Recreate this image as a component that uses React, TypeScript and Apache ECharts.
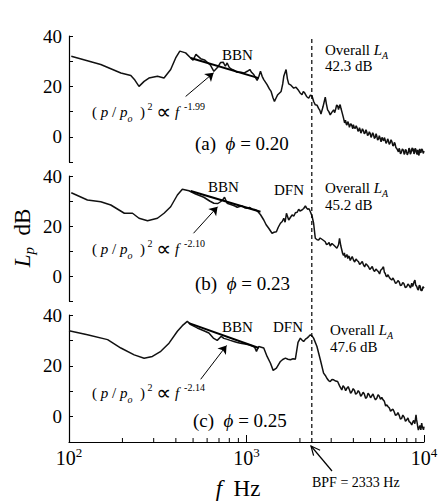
import React, { useEffect, useRef } from 'react';
import * as echarts from 'echarts';

const SERIF = 'Liberation Serif, Times New Roman, DejaVu Serif, serif';

// ---- data (frequency Hz, level dB) ----
const spectrumA: number[][] = [
  [103,32],[151,28.7],[196,25.3],[223,24.3],[235,22.5],[248,20],[265,22],[282,23.3],[315,24],[343,23.3],[374,26.7],[399,31.3],[421,34],[454,33.3],[485,31.3],[500,30.4],[519,32.7],[552,31],[580,30.5],[601,29.6],[625,28.5],[655,26],[690,27.7],[715,29.5],[739,29.6],[760,28],[778,29.3],[800,27.5],[831,26.7],[860,26.2],[887,25.6],[930,25.6],[967,25.3],[1010,26],[1044,26.7],[1070,25.5],[1099,24.7],[1148,22.4],[1175,24],[1199,26],[1225,24],[1251,22.7],[1306,20.7],[1345,19],[1376,18],[1410,15.5],[1437,14],[1470,15.5],[1500,16.7],[1567,18],[1600,21],[1622,24],[1671,26.7],[1700,23],[1729,21],[1780,20.5],[1846,19.3],[1900,19.7],[1951,18.7],[2000,17.5],[2054,16.7],[2090,18],[2118,17.6],[2180,16],[2240,15.3],[2290,16.5],[2338,16.3],[2390,14],[2441,12.7],[2500,12.5],[2548,11.3],[2590,10.5],[2627,9],[2700,12],[2778,15.7],[2820,13],[2864,10.7],[2910,10],[2963,8.7],[3030,9.8],[3097,10.7],[3140,9.6],[3180,11],[3220,12.6],[3261,12.3],[3300,10.8],[3330,12],[3370,12.8],[3404,11.3],[3460,9.5],[3524,7.3],
  [3570,5.5],[3610,6.6],[3650,5],[3680,4.7],[3720,6],[3760,5.3],[3800,3.8],[3830,4.5],[3880,5.2],[3927,4.3],[3970,3.2],[4000,4.8],[4050,3.6],[4097,3.3],[4150,4.4],[4200,3.5],[4250,2.2],[4290,2.5],[4330,3.6],[4370,2.7],[4410,1.5],[4450,2],[4500,3.2],[4560,2.4],[4610,1.2],[4665,1.6],[4710,2.8],[4760,1.9],[4810,0.5],[4870,0.9],[4920,2],[4978,1.3],[5030,-0.2],[5080,0.4],[5140,1.6],[5200,0.8],[5250,-0.6],[5310,-0.3],[5370,1.2],[5420,0.3],[5480,-1.3],[5540,-0.9],[5600,0.4],[5666,-0.7],[5730,-2],[5800,-0.2],[5860,-1],[5920,-1.6],[5980,-0.3],[6045,-1.3],[6110,-2.6],[6180,-2],[6240,-0.8],[6300,-1.5],[6370,-3],[6449,-2.4],[6520,-1.2],[6600,-2],[6680,-3.6],[6750,-3.4],[6810,-2.2],[6880,-2.9],[6940,-4.2],[7000,-4.5],[7090,-5.2],[7177,-6],[7240,-4.6],[7300,-5.2],[7370,-6.8],[7450,-6.3],[7550,-4.8],[7656,-5.3],[7730,-7],[7800,-6.6],[7870,-5],[7950,-5.5],[8050,-7.2],[8168,-6],[8230,-4.5],[8300,-5],[8370,-6.9],[8450,-6.4],[8520,-5],[8600,-4.4],[8660,-5.8],[8714,-4.7],[8780,-6.8],[8850,-6.2],[8920,-4.6],[9000,-5],[9080,-6.4],[9150,-7],[9220,-5.2],[9296,-6.7],[9370,-7.4],[9450,-4.8],[9520,-5.6],[9600,-6.4],[9700,-4.8],[9800,-5.2],[9900,-6.6],[10000,-5.6]
];
const spectrumB: number[][] = [
  [103,33.3],[127,30.4],[151,29.7],[172,28.4],[205,25.1],[228,25.1],[248,23.1],[277,22.1],[315,23.1],[343,25.1],[374,27.7],[408,32.4],[435,34.7],[474,34.1],[517,32.8],[575,31.5],[620,30],[655,29.1],[690,29],[714,29.7],[735,30.5],[752,31.5],[778,29.1],[800,28.8],[831,28.4],[860,28],[887,27.5],[915,27.8],[946,28],[975,27.3],[1009,27.1],[1040,27.4],[1077,26.7],[1110,26.6],[1148,26.1],[1200,24.5],[1251,22.4],[1290,20.5],[1334,19.1],[1393,17.1],[1430,17.5],[1474,17.7],[1510,19.5],[1553,21.1],[1590,21.8],[1622,23.1],[1650,21.5],[1679,25.1],[1729,22.4],[1770,23.5],[1806,24.4],[1850,24],[1885,25.3],[1930,25.5],[1968,26.7],[2000,26],[2054,26.4],[2100,27],[2146,28],[2180,27.2],[2212,26.7],[2250,26.9],[2290,25.7],[2340,24],[2388,21.1],[2441,15.1],[2500,14.5],[2548,14.4],[2600,15.2],[2660,14.7],[2720,14.2],[2778,13.7],[2820,12.6],[2870,12.8],[2920,13.4],[2963,12],[3030,13],[3097,12.4],[3160,11.8],[3230,11.1],[3300,12.5],[3343,15.1],[3400,12],
  [3443,10.4],[3480,9],[3520,8.2],[3560,9.2],[3597,7.5],[3640,8],[3680,8.6],[3720,7],[3756,8],[3800,7.6],[3840,6.2],[3880,6.8],[3940,7.8],[4007,6.4],[4070,5.6],[4140,6.8],[4200,6.2],[4277,5.7],[4340,4.6],[4420,5.2],[4490,5.8],[4564,4.4],[4630,3.6],[4700,4.9],[4780,4.4],[4868,3.7],[4950,2.6],[5030,3.2],[5110,3.8],[5193,2.4],[5270,1.8],[5360,2.8],[5450,2.2],[5538,1.7],[5620,0.8],[5700,2.3],[5800,2.8],[5911,3.7],[5980,1.5],[6050,1],[6110,0],[6173,-0.3],[6270,0.5],[6380,-0.6],[6480,-1.2],[6580,-1.6],[6690,-0.8],[6800,-1.8],[6900,-2.9],[7016,-2.7],[7130,-1.8],[7250,-2.4],[7360,-3.8],[7483,-3.6],[7590,-2.6],[7700,-3],[7840,-4.6],[7990,-4.3],[8120,-3.2],[8250,-3.8],[8390,-4.8],[8531,-2.9],[8620,-4.2],[8700,-3.5],[8800,-2.2],[8890,-1.6],[8980,-3.6],[9100,-4.2],[9200,-5.2],[9296,-5.6],[9400,-3.8],[9500,-4],[9620,-5.8],[9750,-5.8],[9870,-4.3],[10000,-4.9]
];
const spectrumC: number[][] = [
  [100,33.8],[127,32.2],[165,30.3],[196,27],[233,24.3],[265,23],[295,23.7],[329,25.7],[366,28.9],[408,33.6],[435,35.8],[464,37.5],[485,36.2],[528,34.9],[575,33.8],[614,32.9],[650,30.9],[684,30],[721,31.6],[745,30.8],[772,30.5],[810,30],[849,29.6],[887,29.2],[925,28.9],[980,28.6],[1031,28.3],[1070,27.9],[1109,27.4],[1138,25.7],[1172,27.6],[1251,27],[1306,23.7],[1365,21],[1413,18.2],[1474,19.1],[1553,21.7],[1600,22.5],[1657,23],[1710,22.6],[1767,22.4],[1830,22.8],[1885,22.6],[1951,29.2],[2011,30.9],[2060,30],[2099,29.6],[2150,30.5],[2191,30.9],[2240,31.5],[2290,32.2],[2340,31.8],[2388,30.9],[2494,27.6],[2606,22.4],[2718,17.1],[2780,16.2],[2837,15.1],[2900,14.2],[2963,13.8],[3030,14.6],[3097,14.5],[3180,14],[3261,13.8],[3350,12],
  [3443,10.5],[3500,12.2],[3560,11.5],[3620,10.2],[3680,11.2],[3740,11.8],[3800,10.6],[3860,9.2],[3927,9.9],[3990,11],[4060,10.3],[4120,8.8],[4190,9.2],[4260,10.2],[4330,9.5],[4400,8],[4467,8.6],[4540,9.6],[4610,8.9],[4690,7.2],[4764,7.6],[4840,9.2],[4920,8.5],[5000,7.4],[5081,8.2],[5160,8.9],[5250,7.5],[5330,6.6],[5420,7.2],[5510,8.6],[5600,8],[5690,6.8],[5781,7.6],[5880,6.6],[5980,6],[6080,4.2],[6173,4.6],[6280,3.9],[6380,3.4],[6480,2.1],[6580,2.6],[6690,2.9],[6800,1.8],[6900,0.5],[7016,0.7],[7130,1.6],[7250,0.5],[7360,-1],[7483,-0.7],[7600,0.6],[7730,-0.2],[7860,-1.8],[7990,-1.3],[8120,-0.5],[8250,-2],[8390,-2.4],[8531,-3.3],[8640,-2.2],[8750,-1.5],[8880,-2.8],[9017,0.7],[9080,-1.2],[9150,-2.5],[9220,-4],[9296,-5.3],[9400,-4.2],[9500,-3.5],[9600,-5.2],[9706,-2.6],[9780,-4],[9850,-4.5],[9930,-5.2],[10000,-3.9]
];

// broadband-noise fit lines (two end points each)
const bbnA: number[][] = [[485,31.3],[1172,23.3]];
const bbnB: number[][] = [[485,34],[1199,25.7]];
const bbnC: number[][] = [[474,36.8],[1172,27]];

// annotation arrows [from, to]
const arrowA: number[][] = [[454,16],[653,25.4]];
const arrowB: number[][] = [[503,17.1],[687,27.7]];
const arrowC: number[][] = [[552,14.7],[772,28]];

const bpf = 2333;
const exponents = ['-1.99', '-2.10', '-2.14'];
const phis = ['0.20', '0.23', '0.25'];
const overall = ['42.3 dB', '45.2 dB', '47.6 dB'];
const panelTags = ['(a)', '(b)', '(c)'];
const yLabelValues = [40, 20, 0];
const minorTicks = [200,300,400,500,600,700,800,900,2000,3000,4000,5000,6000,7000,8000,9000];

export default function App() {
  const ref = useRef<HTMLDivElement>(null);
  useEffect(() => {
    const chart = echarts.init(ref.current!, null, { renderer: 'svg' });
    const grids = [
      { left: 69, right: 17, top: 36, height: 126 },
      { left: 69, right: 17, top: 176, height: 125 },
      { left: 69, right: 17, top: 315, height: 127 },
      { left: 69, right: 17, top: 38, height: 404 },
    ];
    const xAxes: any[] = [0, 1, 2, 3].map((i) => ({
      type: 'log',
      logBase: 10,
      min: 100,
      max: 10000,
      gridIndex: i,
      show: i === 2,
      axisLine: { show: true, onZero: false, lineStyle: { color: '#000', width: 1.2 } },
      axisTick: { show: true, inside: true, length: 7, lineStyle: { color: '#000', width: 1 } },
      splitLine: { show: false },
      minorTick: { show: false },
      axisLabel: {
        margin: 4,
        color: '#000',
        formatter: (v: number) => `{b|10}{s|${Math.round(Math.log10(v))}}`,
        rich: {
          b: { fontFamily: SERIF, fontSize: 20, color: '#000', lineHeight: 24 },
          s: { fontFamily: SERIF, fontSize: 13, color: '#000', verticalAlign: 'top', lineHeight: 13 },
        },
      },
    }));
    const yAxes: any[] = [0, 1, 2].map((i) => ({
      type: 'value',
      min: -10,
      max: 40,
      interval: 10,
      gridIndex: i,
      axisLine: { show: true, onZero: false, lineStyle: { color: '#000', width: 1.2 } },
      axisTick: { show: true, inside: true, length: 4, lineStyle: { color: '#000', width: 1 } },
      splitLine: { show: false },
      axisLabel: {
        color: '#000',
        fontFamily: SERIF,
        fontSize: 19,
        margin: 7,
        formatter: (v: number) => (yLabelValues.includes(v) ? String(v) : ''),
      },
    }));
    yAxes.push({ type: 'value', min: 0, max: 1, gridIndex: 3, show: false });

    const spectra = [spectrumA, spectrumB, spectrumC];
    const bbns = [bbnA, bbnB, bbnC];
    const arrows = [arrowA, arrowB, arrowC];
    const series: any[] = [];
    spectra.forEach((d, i) => {
      series.push({
        type: 'line',
        xAxisIndex: i,
        yAxisIndex: i,
        data: d,
        symbol: 'none',
        lineStyle: { color: '#111', width: 1.5 },
        z: 3,
      });
      series.push({
        type: 'line',
        xAxisIndex: i,
        yAxisIndex: i,
        data: bbns[i],
        symbol: 'none',
        lineStyle: { color: '#000', width: 2 },
        z: 4,
        markLine: {
          silent: true,
          symbol: ['none', 'arrow'],
          symbolSize: 8,
          label: { show: false },
          lineStyle: { color: '#000', width: 1, type: 'solid' },
          data: [[{ coord: arrows[i][0] }, { coord: arrows[i][1] }]],
        },
      });
    });
    series.push({
      type: 'line',
      xAxisIndex: 3,
      yAxisIndex: 3,
      data: [[bpf, 0], [bpf, 1]],
      symbol: 'none',
      lineStyle: { color: '#000', width: 1.2, type: [4, 3] },
      z: 5,
    });
    series.push({
      type: 'custom',
      xAxisIndex: 2,
      yAxisIndex: 2,
      data: minorTicks.map((f) => [f, -10]),
      renderItem: (params: any, api: any) => {
        const p = api.coord([api.value(0), api.value(1)]);
        return {
          type: 'line',
          shape: { x1: p[0], y1: p[1], x2: p[0], y2: p[1] - 4 },
          style: { stroke: '#000', lineWidth: 1 },
        };
      },
      z: 6,
    });

    const txt = (x: number, y: number, text: string, fontSize: number, rich?: any, extra?: any) => ({
      type: 'text',
      x,
      y,
      silent: true,
      style: {
        text,
        fontFamily: SERIF,
        fontSize,
        fill: '#000',
        verticalAlign: 'middle',
        align: 'left',
        rich,
        ...(extra || {}),
      },
    });
    const formulaRich = {
      i: { fontFamily: SERIF, fontStyle: 'italic', fontSize: 15, lineHeight: 22 },
      n: { fontFamily: SERIF, fontSize: 15, lineHeight: 22 },
      pr: { fontFamily: 'DejaVu Sans, sans-serif', fontSize: 21, lineHeight: 22 },
      sub: { fontFamily: SERIF, fontStyle: 'italic', fontSize: 10, verticalAlign: 'bottom', lineHeight: 13 },
      sup: { fontFamily: SERIF, fontSize: 10, verticalAlign: 'top', lineHeight: 11 },
    };
    const laRich = {
      n: { fontFamily: SERIF, fontSize: 15, lineHeight: 20 },
      i: { fontFamily: SERIF, fontStyle: 'italic', fontSize: 15, lineHeight: 20 },
      sub: { fontFamily: SERIF, fontStyle: 'italic', fontSize: 10, verticalAlign: 'bottom', lineHeight: 11 },
    };
    const phiRich = {
      n: { fontFamily: SERIF, fontSize: 19 },
      i: { fontFamily: SERIF, fontStyle: 'italic', fontSize: 19 },
    };
    const pos = [
      { bbn: [222, 55], dfn: null, ov: [325, 50], db: [325, 66], fo: [92, 112], phi: [195, 143] },
      { bbn: [208, 187], dfn: [274, 190], ov: [325, 188], db: [325, 205], fo: [92, 249], phi: [195, 283] },
      { bbn: [222, 327], dfn: [273, 327], ov: [330, 330], db: [330, 347], fo: [92, 393], phi: [193, 420] },
    ];
    const graphic: any[] = [];
    pos.forEach((p, i) => {
      graphic.push(txt(p.bbn[0], p.bbn[1], 'BBN', 15));
      if (p.dfn) graphic.push(txt(p.dfn[0], p.dfn[1], 'DFN', 15));
      graphic.push(txt(p.ov[0], p.ov[1], '{n|Overall }{i|L}{sub|A}', 15, laRich));
      graphic.push(txt(p.db[0], p.db[1], overall[i], 15));
      graphic.push(
        txt(p.fo[0], p.fo[1], `{n|( }{i|p}{n| / }{i|p}{sub|o}{n|  )}{sup| 2}{n| }{pr|∝}{n| }{i|f}{sup|  ${exponents[i]}}`, 15, formulaRich)
      );
      graphic.push(txt(p.phi[0], p.phi[1], `{n|${panelTags[i]}  }{i|ϕ}{n| = ${phis[i]}}`, 19, phiRich));
    });
    const yTitle: any = txt(22, 238, '{i|L}{sub|p}{n|  dB}', 22, {
      i: { fontFamily: SERIF, fontStyle: 'italic', fontSize: 23, lineHeight: 28 },
      n: { fontFamily: SERIF, fontSize: 23, lineHeight: 28 },
      sub: { fontFamily: SERIF, fontStyle: 'italic', fontSize: 15, verticalAlign: 'bottom', lineHeight: 14 },
    }, { align: 'center' });
    yTitle.rotation = Math.PI / 2;
    graphic.push(yTitle);
    graphic.push(
      txt(238, 488, '{i|f}{n|  Hz}', 22, {
        i: { fontFamily: SERIF, fontStyle: 'italic', fontSize: 23 },
        n: { fontFamily: SERIF, fontSize: 23 },
      }, { align: 'center' })
    );
    graphic.push(txt(312, 482, 'BPF = 2333 Hz', 14));
    graphic.push({
      type: 'line',
      silent: true,
      shape: { x1: 332, y1: 471, x2: 311, y2: 446 },
      style: { stroke: '#000', lineWidth: 1.2 },
    });
    graphic.push({
      type: 'polyline',
      silent: true,
      shape: { points: [[313.6, 455.7], [311, 446], [320.1, 450.2]] },
      style: { stroke: '#000', lineWidth: 1.2, fill: 'none' },
    });

    chart.setOption({
      animation: false,
      backgroundColor: '#fff',
      grid: grids,
      xAxis: xAxes,
      yAxis: yAxes,
      series,
      graphic,
    });
    return () => chart.dispose();
  }, []);
  return <div ref={ref} style={{ position: 'fixed', left: 0, top: 0, width: 441, height: 502 }} />;
}
